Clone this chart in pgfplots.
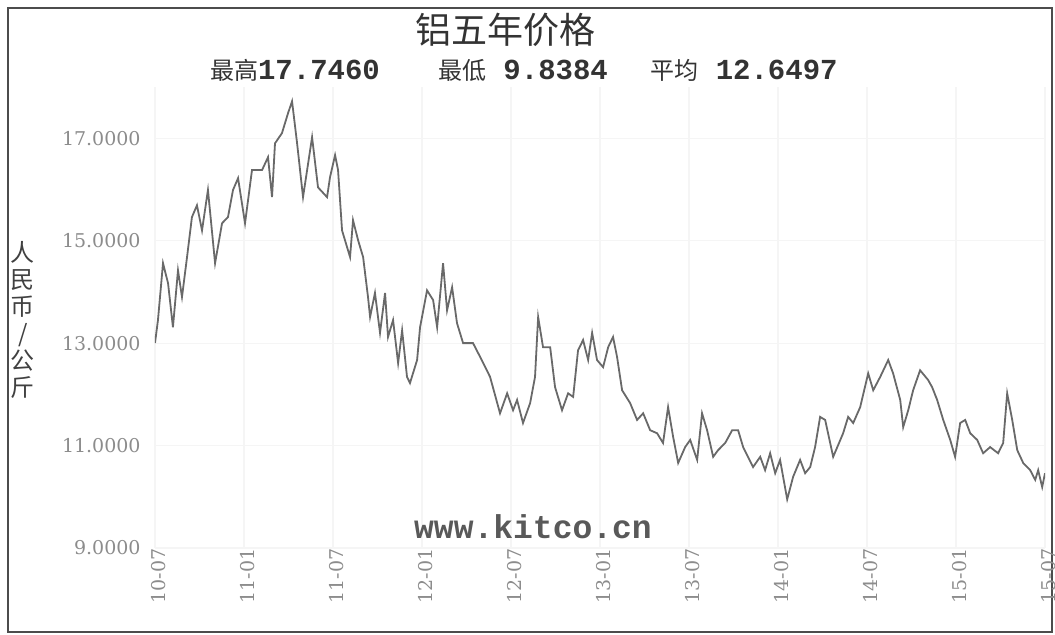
\documentclass[border=0pt]{standalone}
\usepackage{pgfplots}
\pgfplotsset{compat=1.18}
\usepackage{fontspec}
\setmainfont{DejaVu Serif}
\newfontfamily\cjk{Noto Sans CJK SC}
\newfontfamily\mono{Liberation Mono}
\definecolor{linegray}{RGB}{105,105,105}
\definecolor{labgray}{RGB}{140,140,140}
\begin{document}
\begin{tikzpicture}
% whole picture 1055x635 px at 0.5bp per px, origin at the axis' lower left corner
\path[use as bounding box] (-77.5bp,-43.5bp) rectangle (450bp,274bp);
\draw[gray!60!black, line width=1.2bp] (-73.5bp,-42bp) rectangle (448.5bp,270bp);
\begin{axis}[
  at={(0,0)}, anchor=south west,
  scale only axis, width=445bp, height=230.5bp,
  xmin=0, xmax=60, ymin=9, ymax=18,
  axis line style={draw=none}, tick style={draw=none},
  grid=major, grid style={gray!8, line width=0.6bp},
  xtick={0,6,...,60},
  xticklabels={10-07,11-01,11-07,12-01,12-07,13-01,13-07,14-01,14-07,15-01,15-07},
  ytick={9,11,13,15,17},
  /pgf/number format/assume math mode=true,
  yticklabel={\pgfmathprintnumber[fixed,fixed zerofill,precision=4]{\tick}},
  ticklabel style={font=\fontsize{9.5bp}{11bp}\selectfont, text=labgray},
  y tick label style={anchor=east, inner sep=0pt, xshift=-7bp},
  x tick label style={rotate=90, anchor=east, inner sep=0pt, yshift=-2bp},
]
\addplot[linegray, line width=0.9bp] coordinates {
(0.00,13.00) (0.20,13.45) (0.54,14.56) (0.88,14.17) (1.21,13.31) (1.55,14.42)
(1.82,13.90) (2.16,14.68) (2.49,15.46) (2.83,15.69) (3.17,15.20) (3.57,15.99)
(4.05,14.56) (4.52,15.34) (4.92,15.46) (5.26,15.99) (5.60,16.22) (6.07,15.34)
(6.54,16.38) (7.22,16.38) (7.62,16.63) (7.89,15.85) (8.09,16.90) (8.56,17.10)
(8.97,17.49) (9.24,17.72) (9.58,16.90) (9.98,15.85) (10.59,17.02) (10.99,16.04)
(11.60,15.85) (11.80,16.24) (12.14,16.67) (12.34,16.38) (12.61,15.20) (13.15,14.68)
(13.35,15.40) (13.69,15.01) (14.03,14.68) (14.36,13.90) (14.50,13.51) (14.83,13.98)
(15.17,13.20) (15.51,13.98) (15.71,13.12) (16.05,13.45) (16.39,12.61) (16.66,13.25)
(16.99,12.34) (17.19,12.22) (17.67,12.67) (17.87,13.31) (18.34,14.03) (18.75,13.84)
(19.02,13.31) (19.42,14.56) (19.69,13.64) (20.03,14.09) (20.36,13.39) (20.77,13.00)
(21.44,13.00) (21.92,12.73) (22.59,12.34) (23.26,11.63) (23.74,12.02) (24.14,11.69)
(24.41,11.89) (24.81,11.44) (25.29,11.83) (25.62,12.34) (25.83,13.51) (26.16,12.92)
(26.64,12.92) (26.97,12.14) (27.44,11.69) (27.85,12.02) (28.19,11.95) (28.52,12.86)
(28.86,13.06) (29.20,12.67) (29.47,13.20) (29.80,12.67) (30.21,12.53) (30.55,12.92)
(30.88,13.12) (31.15,12.73) (31.49,12.08) (32.03,11.83) (32.50,11.50) (32.91,11.63)
(33.38,11.30) (33.85,11.24) (34.25,11.05) (34.59,11.75) (34.93,11.17) (35.27,10.66)
(35.74,10.97) (36.08,11.11) (36.55,10.72) (36.88,11.63) (37.22,11.30) (37.63,10.78)
(37.96,10.91) (38.44,11.05) (38.91,11.30) (39.31,11.30) (39.65,10.97) (40.32,10.58)
(40.80,10.78) (41.13,10.52) (41.47,10.85) (41.81,10.46) (42.14,10.72) (42.62,9.95)
(43.02,10.39) (43.49,10.72) (43.83,10.46) (44.17,10.58) (44.50,10.97) (44.84,11.56)
(45.18,11.50) (45.72,10.78) (46.39,11.24) (46.73,11.56) (47.07,11.44) (47.54,11.75)
(48.08,12.41) (48.42,12.08) (48.89,12.34) (49.43,12.67) (49.76,12.41) (50.24,11.89)
(50.44,11.36) (50.78,11.69) (51.11,12.08) (51.58,12.47) (52.12,12.28) (52.39,12.14)
(52.73,11.89) (53.14,11.50) (53.61,11.11) (53.94,10.78) (54.28,11.44) (54.62,11.50)
(54.96,11.24) (55.43,11.11) (55.83,10.85) (56.30,10.97) (56.84,10.85) (57.18,11.05)
(57.45,12.02) (57.79,11.50) (58.13,10.91) (58.53,10.66) (59.00,10.52) (59.34,10.33)
(59.54,10.52) (59.81,10.19) (60.00,10.46)
};
\end{axis}
% titles and labels
\node[font=\cjk\fontsize{18bp}{20bp}\selectfont, text=black!80] at (175bp,259bp) {铝五年价格};
\node[text=black!80] at (70bp,239bp) {{\cjk\fontsize{12bp}{14bp}\selectfont 最高}{\mono\bfseries\fontsize{14.5bp}{16bp}\selectfont 17.7460}};
\node[text=black!80] at (184bp,239bp) {{\cjk\fontsize{12bp}{14bp}\selectfont 最低}{\mono\bfseries\fontsize{14.5bp}{16bp}\selectfont \ 9.8384}};
\node[text=black!80] at (294.5bp,239bp) {{\cjk\fontsize{12bp}{14bp}\selectfont 平均}{\mono\bfseries\fontsize{14.5bp}{16bp}\selectfont \ 12.6497}};
\node[font=\cjk\fontsize{12bp}{13.5bp}\selectfont, align=center, text=black!75] at (-66bp,114bp) {人\\民\\币\\/\\公\\斤};
\node[font=\mono\bfseries\fontsize{16.5bp}{18bp}\selectfont, text=black!65] at (189bp,10.5bp) {www.kitco.cn};
\end{tikzpicture}
\end{document}
